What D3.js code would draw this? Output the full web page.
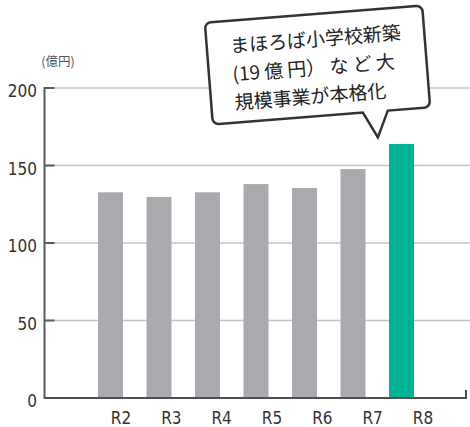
<!DOCTYPE html>
<html>
<head>
<meta charset="utf-8">
<script src="https://cdn.jsdelivr.net/npm/d3@7"></script>
<style>
  html, body { margin: 0; padding: 0; background: #fff; }
  svg { display: block; }
</style>
</head>
<body>
<div id="chart"></div>
<script>
// データ
const years = ['R2', 'R3', 'R4', 'R5', 'R6', 'R7', 'R8'];
const values = [132.7, 129.7, 132.7, 138, 135.5, 147.7, 163.9];
const yTicks = [0, 50, 100, 150, 200];
const unitLabel = '(億円)';
const calloutLines = ['まほろば小学校新築', '(19 億 円） な ど 大', '規模事業が本格化'];

const W = 470, H = 427;
const svg = d3.select('#chart').append('svg')
    .attr('width', W)
    .attr('height', H);

const numFont = '"Liberation Sans Narrow", "DejaVu Sans Condensed", sans-serif';
const jpFont = '"Noto Sans CJK JP", "Noto Sans", sans-serif';

const y = d3.scaleLinear().domain([0, 200]).range([398, 88]);

// bars sit on one band scale, labels on a slightly wider point scale
const x = d3.scaleBand().domain(years)
    .range([86.25, 425.75])
    .paddingInner(0.4845)
    .paddingOuter(0.4845 / 2);
const xLabel = d3.scalePoint().domain(years).range([121, 423]);

const axisLeft = 44.5, gridRight = 470, baseRight = 466;

// gridlines
svg.append('g').selectAll('line')
    .data(yTicks.filter(d => d > 0))
    .enter().append('line')
    .attr('x1', axisLeft).attr('x2', gridRight)
    .attr('y1', d => y(d)).attr('y2', d => y(d))
    .style('stroke', '#c4c4c4')
    .style('stroke-width', 1.5);

// bars
svg.append('g').selectAll('rect')
    .data(values)
    .enter().append('rect')
    .attr('x', (d, i) => x(years[i]))
    .attr('width', x.bandwidth())
    .attr('y', d => y(d))
    .attr('height', d => y(0) - y(d))
    .style('fill', (d, i) => i === years.length - 1 ? '#00b294' : '#a9aaad');

// y axis line + short dark ticks
svg.append('line')
    .attr('x1', axisLeft).attr('x2', axisLeft)
    .attr('y1', y(200) - 1).attr('y2', y(0) + 1)
    .style('stroke', '#5a5a5a').style('stroke-width', 2);

svg.append('g').selectAll('line')
    .data(yTicks)
    .enter().append('line')
    .attr('x1', axisLeft).attr('x2', axisLeft + 10)
    .attr('y1', d => y(d)).attr('y2', d => y(d))
    .style('stroke', '#5a5a5a').style('stroke-width', 2);

// baseline with small end tick
svg.append('path')
    .attr('d', `M${axisLeft},${y(0)}H${baseRight}V${y(0) - 8}`)
    .style('fill', 'none')
    .style('stroke', '#4f4f4f').style('stroke-width', 2);

// y tick labels
svg.append('g').selectAll('text')
    .data(yTicks)
    .enter().append('text')
    .attr('x', 37)
    .attr('y', d => y(d) + 9)
    .attr('text-anchor', 'end')
    .style('font-family', numFont)
    .style('font-size', '17px')
    .style('fill', '#333')
    .text(d => d);

// x labels
svg.append('g').selectAll('text')
    .data(years)
    .enter().append('text')
    .attr('x', d => xLabel(d))
    .attr('y', 424)
    .attr('text-anchor', 'middle')
    .style('font-family', numFont)
    .style('font-size', '17px')
    .style('fill', '#333')
    .text(d => d);

// unit
svg.append('text')
    .attr('x', 58).attr('y', 65.5)
    .attr('text-anchor', 'middle')
    .style('font-family', jpFont)
    .style('font-size', '12.5px')
    .style('fill', '#555')
    .text(unitLabel);

// callout bubble, slightly tilted
const cx = 317, cy = 65;
const box = {x0: 208.5, x1: 426.5, y0: 14, y1: 116, r: 6};
const ptr = {a: 359, b: 384, tipX: 372, tipY: 142};

const bubble = svg.append('g')
    .attr('transform', `rotate(-4.5, ${cx}, ${cy})`);

const p = d3.path();
p.moveTo(box.x0 + box.r, box.y0);
p.lineTo(box.x1 - box.r, box.y0);
p.arcTo(box.x1, box.y0, box.x1, box.y0 + box.r, box.r);
p.lineTo(box.x1, box.y1 - box.r);
p.arcTo(box.x1, box.y1, box.x1 - box.r, box.y1, box.r);
p.lineTo(ptr.b, box.y1);
p.lineTo(ptr.tipX, ptr.tipY);
p.lineTo(ptr.a, box.y1);
p.lineTo(box.x0 + box.r, box.y1);
p.arcTo(box.x0, box.y1, box.x0, box.y1 - box.r, box.r);
p.lineTo(box.x0, box.y0 + box.r);
p.arcTo(box.x0, box.y0, box.x0 + box.r, box.y0, box.r);
p.closePath();

bubble.append('path')
    .attr('d', p.toString())
    .style('fill', '#fff')
    .style('stroke', '#333')
    .style('stroke-width', 2.5)
    .style('stroke-linejoin', 'miter');

bubble.selectAll('text.callout')
    .data(calloutLines)
    .enter().append('text')
    .attr('class', 'callout')
    .attr('x', 232)
    .attr('y', (d, i) => 46 + i * 28.5)
    .style('font-family', jpFont)
    .style('font-size', '19px')
    .style('fill', '#222')
    .text(d => d);
</script>
</body>
</html>
